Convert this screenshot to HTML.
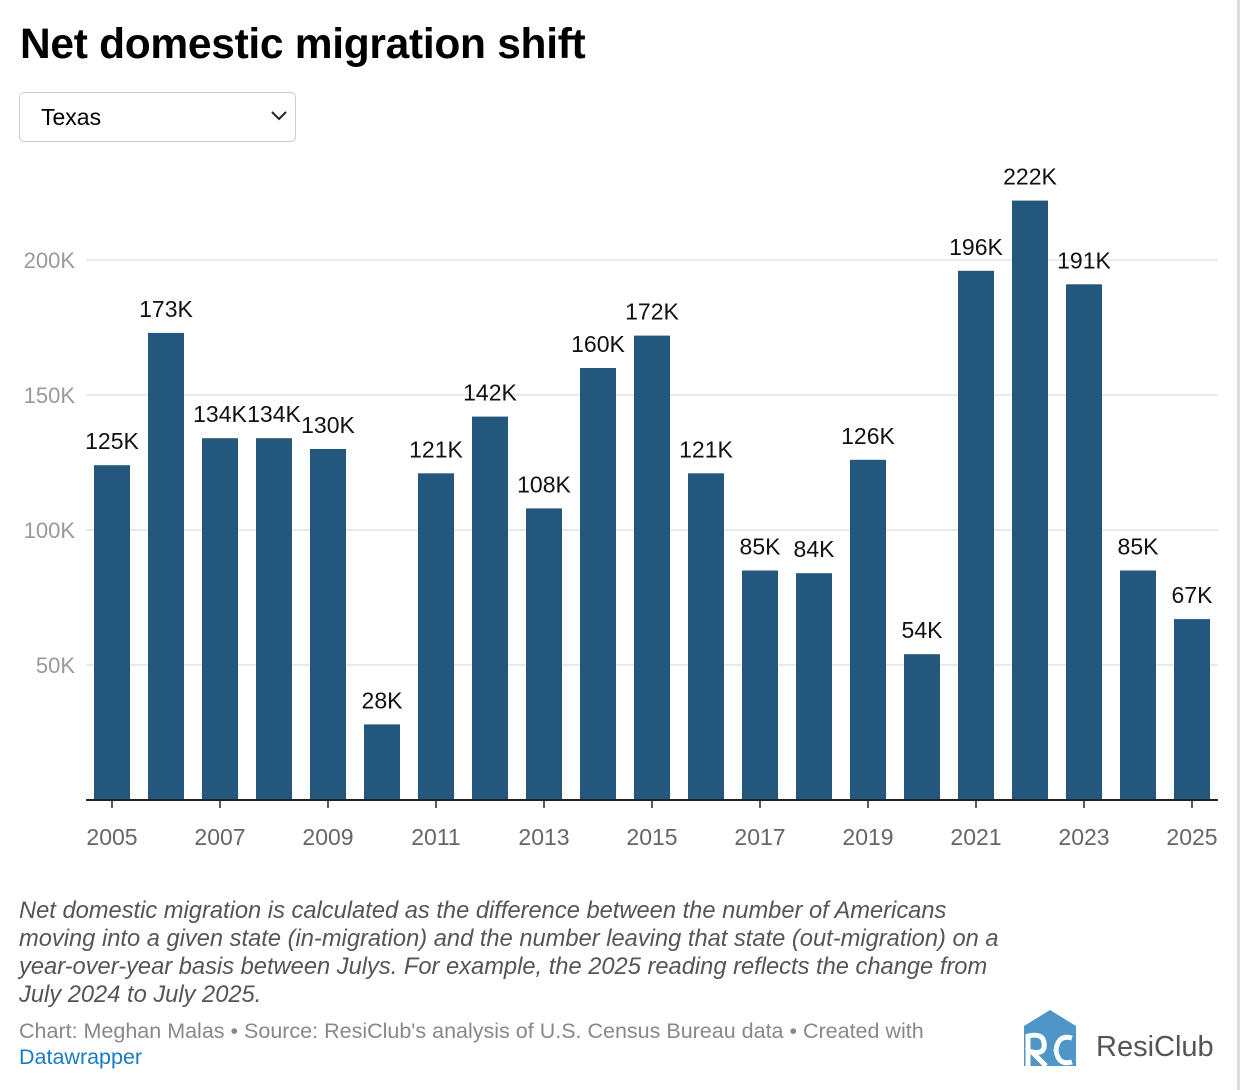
<!DOCTYPE html>
<html><head><meta charset="utf-8"><style>
body{margin:0;width:1240px;height:1090px;background:#fff;font-family:"Liberation Sans",sans-serif;position:relative;overflow:hidden}
.t{position:absolute;left:20px;top:21px;font-size:42.5px;font-weight:bold;color:#000;margin:0;letter-spacing:-0.3px}
.sel{position:absolute;left:19px;top:92px;width:277px;height:50px;border:1.5px solid #ccc;border-radius:5px;box-sizing:border-box;font-size:23px;padding:11px 21px;color:#000}
.note{position:absolute;left:19px;top:897px;width:1000px;font-size:23.7px;font-style:italic;color:#555;line-height:28px}
.src{position:absolute;left:19px;top:1018px;font-size:21.5px;color:#888;line-height:26px}
.src a{color:#1a7bc4;text-decoration:none}
.edge{position:absolute;left:1237px;top:0;width:3px;height:1090px;background:#ddd}
</style></head><body>
<h1 class="t">Net domestic migration shift</h1>
<div class="sel">Texas<svg style="position:absolute;right:8px;top:17px" width="16" height="12"><path d="M1 2 L8 9 L15 2" fill="none" stroke="#222" stroke-width="2"/></svg></div>
<svg id="chart" width="1240" height="880" style="position:absolute;left:0;top:0"></svg>
<div class="note">Net domestic migration is calculated as the difference between the number of Americans moving into a given state (in-migration) and the number leaving that state (out-migration) on a year-over-year basis between Julys. For example, the 2025 reading reflects the change from July 2024 to July 2025.</div>
<div class="src">Chart: Meghan Malas • Source: ResiClub's analysis of U.S. Census Bureau data • Created with<br><a>Datawrapper</a></div>
<svg width="210" height="62" style="position:absolute;left:1020px;top:1008px">
<path d="M4 18 L30 2 L56 18 L56 58 L4 58 Z" fill="#4e95c8"/>
<path d="M8 26 L8 58 M8 28 Q26 24 24 40 Q22 46 12 44 L26 58" fill="none" stroke="#fff" stroke-width="5"/>
<path d="M52 30 Q38 26 36 42 Q38 58 52 54" fill="none" stroke="#fff" stroke-width="5"/>
<text x="76" y="48" font-size="29" fill="#555" font-family="Liberation Sans">ResiClub</text>
</svg>
<div class="edge"></div>
<script>
const years=["2005","2006","2007","2008","2009","2010","2011","2012","2013","2014","2015","2016","2017","2018","2019","2020","2021","2022","2023","2024","2025"];
const values=[124,173,134,134,130,28,121,142,108,160,172,121,85,84,126,54,196,222,191,85,67];
const labels=["125K","173K","134K","134K","130K","28K","121K","142K","108K","160K","172K","121K","85K","84K","126K","54K","196K","222K","191K","85K","67K"];
const yTicks=[50,100,150,200];
const xTickLabels=["2005","2007","2009","2011","2013","2015","2017","2019","2021","2023","2025"];
const svg=document.getElementById('chart');
const NS='http://www.w3.org/2000/svg';
const y=v=>800-v*2.7;
const x=i=>112+i*54;
const bw=36;
function mk(t,a){const e=document.createElementNS(NS,t);for(const k in a)e.setAttribute(k,a[k]);svg.appendChild(e);return e;}
yTicks.forEach(v=>{
 const g=mk('line',{x1:86,x2:1218,y1:y(v),y2:y(v),stroke:'#e3e3e3','stroke-width':1.5});
 
 
 const t=mk('text',{x:75,y:y(v)+8,'text-anchor':'end','font-size':22,fill:'#999'});
 t.textContent=v+'K';
 
 
});
values.forEach((v,i)=>{
 const r=mk('rect',{x:x(i)-bw/2,y:y(v),width:bw,height:800-y(v),fill:'#24577d'});
 
 
 const t=mk('text',{x:x(i),y:y(v)-16,'text-anchor':'middle','font-size':23,fill:'#111'});
 t.textContent=labels[i];
 
 
});
const ax=mk('line',{x1:86,x2:1218,y1:800,y2:800,stroke:'#222','stroke-width':2});


xTickLabels.forEach(l=>{
 const i=years.indexOf(l);
 const tk=mk('line',{x1:x(i),x2:x(i),y1:800,y2:808,stroke:'#222','stroke-width':1.5});
 
 
 const t=mk('text',{x:x(i),y:845,'text-anchor':'middle','font-size':23,fill:'#666'});
 t.textContent=l;
 
 
});
</script>
</body></html>
